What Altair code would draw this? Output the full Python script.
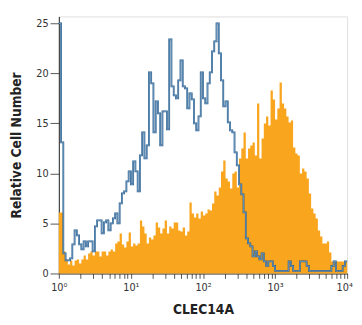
import altair as alt
import pandas as pd

# 128 log-spaced bins from 10^0 to 10^4 (32 per decade)
N_BINS = 128
PER_DECADE = 32

isotype_counts = [
    25, 13.1, 2.0, 1.3, 1.3, 1.5, 2.9, 4.3, 3.8, 2.9,
    2.4, 3.2, 2.7, 3.2, 3.2, 2.2, 4.7, 5.3, 5.3, 4.0,
    5.1, 5.3, 4.3, 5.0, 5.5, 6.0, 5.0, 7.0, 8.0, 8.2,
    9.2, 10.2, 8.9, 11.2, 10.2, 8.2, 11.8, 14.1, 11.5, 12.8,
    20.1, 19.0, 14.1, 17.2, 16.0, 12.8, 16.2, 16.2, 14.4, 23.4,
    18.7, 17.8, 17.5, 19.3, 21.3, 18.7, 18.5, 16.5, 18.0, 17.4,
    15.0, 14.3, 15.7, 20.1, 17.5, 17.0, 19.0, 20.1, 22.2, 23.2,
    25.0, 22.0, 19.3, 16.7, 17.2, 15.1, 14.3, 14.1, 12.1, 10.8,
    8.9, 7.9, 6.1, 3.5, 3.0, 2.7, 1.7, 2.2, 1.7, 1.4,
    2.0, 1.2, 0.75, 1.2, 1.2, 0.75, 0.25, 0.25, 0.25, 0.25,
    0.25, 0.25, 1.2, 0.75, 0.25, 0.25, 0.25, 1.2, 1.2, 1.2,
    0.75, 0.25, 0.25, 0.25, 0.25, 0.25, 0.25, 0.25, 0.25, 0.25,
    0.25, 0.75, 1.2, 0.25, 0.25, 0.25, 0.75, 1.2,
]

clec14a_counts = [
    6.1, 6.1, 2.2, 1.4, 0.9, 1.3, 0.8, 1.3, 1.4, 1.0,
    1.4, 1.8, 1.4, 2.0, 2.2, 1.8, 2.2, 2.2, 1.7, 2.2,
    2.2, 1.8, 2.2, 2.4, 2.2, 3.0, 3.2, 4.0, 2.9, 2.6,
    3.2, 4.1, 2.7, 3.0, 2.8, 3.0, 5.3, 4.7, 4.0, 3.0,
    3.6, 3.4, 3.8, 5.1, 4.6, 4.0, 4.5, 5.3, 4.0, 4.7,
    4.5, 5.1, 5.1, 4.3, 4.2, 4.6, 3.8, 4.2, 7.1, 6.0,
    5.6, 6.0, 5.5, 6.2, 5.8, 6.0, 6.4, 6.3, 7.0, 8.2,
    7.8, 8.6, 10.2, 11.3, 9.5, 9.2, 8.5, 10.0, 10.2, 8.6,
    11.5, 12.5, 14.1, 11.5, 12.5, 12.8, 13.1, 11.8, 17.0, 11.5,
    13.5, 15.0, 15.7, 14.8, 18.3, 17.4, 15.4, 16.5, 19.1, 17.0,
    16.5, 15.7, 15.1, 15.3, 12.6, 12.0, 11.8, 10.0, 10.5, 10.2,
    9.5, 8.0, 6.5, 6.0, 5.5, 4.3, 3.7, 3.0, 3.0, 3.2,
    2.1, 1.2, 1.2, 1.2, 1.2, 1.2, 1.2, 1.2,
]

x_ticks = [m * 10 ** d for d in range(4) for m in range(1, 10)] + [10000]
y_ticks = [0, 5, 10, 15, 20, 25]

FONT = "Liberation Sans Narrow, DejaVu Sans Condensed, sans-serif"


def step_frame(counts):
    edges = [10 ** (i / PER_DECADE) for i in range(N_BINS + 1)]
    xs = edges[:N_BINS] + [edges[N_BINS]]
    ys = list(counts) + [counts[-1]]
    return pd.DataFrame({"x": xs, "y": ys})


orange_df = step_frame(clec14a_counts)
blue_df = step_frame(isotype_counts)

label_expr = (
    "datum.value == 1 ? '10⁰' : datum.value == 10 ? '10¹' : "
    "datum.value == 100 ? '10²' : datum.value == 1000 ? '10³' : "
    "datum.value == 10000 ? '10⁴' : ''"
)

x_enc = alt.X(
    "x:Q",
    scale=alt.Scale(type="log", domain=[1, 10000], nice=False),
    axis=alt.Axis(
        title="CLEC14A",
        values=x_ticks,
        labelExpr=label_expr,
        grid=False,
        tickSize=5,
        labelPadding=3,
        labelFontSize=11,
        labelFont=FONT,
        labelColor="#333333",
        labelOffset={"condition": {"test": "datum.value == 10000", "value": -3}, "value": 0},
        titleFont=FONT,
        titleFontSize=14,
        titleFontWeight="bold",
        titleColor="#222222",
        titlePadding=11,
        domainColor="#222222",
        tickColor="#555555",
        labelOverlap=False,
        labelFlush=False,
    ),
)

y_scale = alt.Scale(domain=[0, 25.7], nice=False)
y_axis = alt.Axis(
    title="Relative Cell Number",
    values=y_ticks,
    grid=False,
    tickSize=9,
    labelPadding=2,
    labelFontSize=11,
    labelFont=FONT,
    labelColor="#333333",
    titleFont=FONT,
    titleFontSize=14,
    titleFontWeight="bold",
    titleColor="#222222",
    titlePadding=13,
    domainColor="#222222",
    tickColor="#555555",
)

orange = alt.Chart(orange_df).mark_area(
    interpolate="step-after", color="#F9A51D", opacity=1
).encode(x=x_enc, y=alt.Y("y:Q", scale=y_scale, axis=y_axis))

blue_dark = alt.Chart(blue_df).mark_line(
    interpolate="step-after", color="#245a8a", strokeWidth=1.8
).encode(x="x:Q", y="y:Q")

blue_light = alt.Chart(blue_df).mark_line(
    interpolate="step-after", color="#8fb6da", strokeWidth=0.6
).encode(x="x:Q", y="y:Q")

chart = (
    alt.layer(orange, blue_dark, blue_light)
    .properties(
        width=295,
        height=263,
        autosize=alt.AutoSizeParams(type="none"),
        padding={"left": 52, "top": 5, "right": 7, "bottom": 45},
    )
    .configure_view(stroke=None)
    .configure(background="white")
)

chart.save("out.html", embed_options={"renderer": "svg", "actions": False})
